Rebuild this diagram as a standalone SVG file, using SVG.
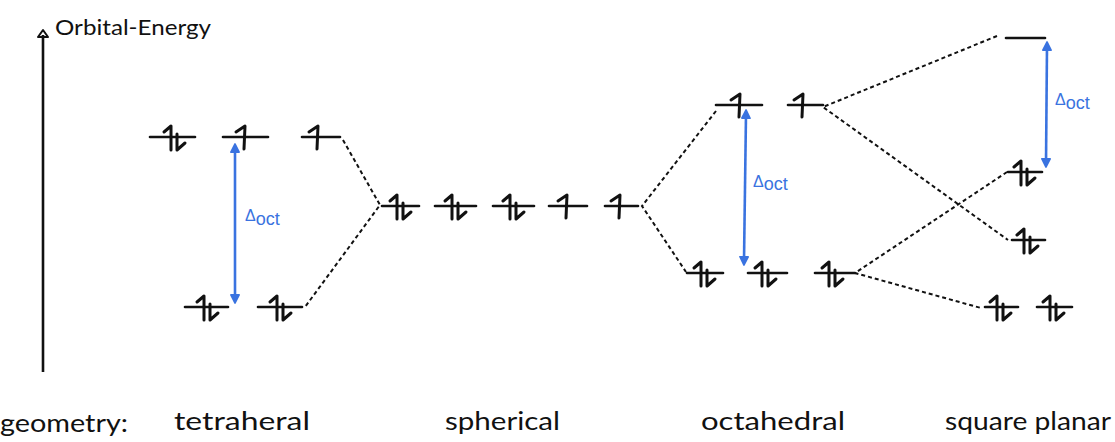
<svg xmlns="http://www.w3.org/2000/svg" width="1115" height="442" viewBox="0 0 1115 442">
<style>
.lvl{stroke:#111;stroke-width:2.6;stroke-linecap:round;fill:none}
.e{stroke:#111;stroke-width:3;stroke-linecap:round;stroke-linejoin:round;fill:none}
.dash{stroke:#111;stroke-width:2;stroke-dasharray:4 3;fill:none}
.gap{stroke:#3a73e0;stroke-width:2.6;fill:none;marker-start:url(#bh);marker-end:url(#bh)}
.gl{fill:#3a73e0;font-family:"Liberation Sans",Arial,sans-serif}
.lab{fill:#111;font-family:Lato,"Liberation Sans",sans-serif;font-size:25px}
</style>
<defs>
<marker id="bh" viewBox="0 0 10 10" refX="5" refY="5" markerWidth="4" markerHeight="4" orient="auto-start-reverse" markerUnits="strokeWidth">
<path d="M1,1 L9,5 L1,9 Z" fill="#3a73e0" stroke="#3a73e0" stroke-width="1.5" stroke-linejoin="round"/>
</marker>
<g id="up"><path class="e" d="M-9,-5 L0,-11 L-1,12"/></g>
<g id="pair"><path class="e" d="M-10,-5 L-3,-11 L-3,13"/><path class="e" d="M3,-3 L3,13 L11,6"/></g>
</defs>

<g id="axis">
<line x1="43" y1="372" x2="43" y2="35" stroke="#111" stroke-width="2.6"/>
<path d="M38,37 L43,30 L48,37 Z" fill="none" stroke="#111" stroke-width="2" stroke-linejoin="round"/>
<text x="55" y="35" font-family="Lato,'Liberation Sans',sans-serif" font-size="22" fill="#111" textLength="156" lengthAdjust="spacingAndGlyphs">Orbital-Energy</text>
</g>

<g id="connectors">
<polyline class="dash" points="343,140 380,205 305,307"/>
<path class="dash" d="M716,111 L642,206 L686,272"/>
<path class="dash" d="M997,36 L823,107 L1008,240"/>
<path class="dash" d="M1007,172 L855,273 L981,308"/>
</g>

<g id="tetrahedral">
<line class="lvl" x1="150" y1="137" x2="195" y2="137"/><use href="#pair" x="174" y="137"/>
<line class="lvl" x1="223" y1="137" x2="268" y2="137"/><use href="#up" x="245" y="137"/>
<line class="lvl" x1="302" y1="137" x2="340" y2="137"/><use href="#up" x="318" y="137"/>
<line class="lvl" x1="185" y1="307" x2="228" y2="307"/><use href="#pair" x="207" y="307"/>
<line class="lvl" x1="258" y1="307" x2="302" y2="307"/><use href="#pair" x="280" y="307"/>
<line class="gap" x1="235" y1="148" x2="235" y2="299"/>
<text class="gl" x="245" y="221" font-size="16">Δ<tspan font-size="18" dy="4">oct</tspan></text>
</g>

<g id="spherical">
<line class="lvl" x1="382" y1="206" x2="419" y2="206"/><use href="#pair" x="400" y="206"/>
<line class="lvl" x1="435" y1="206" x2="476" y2="206"/><use href="#pair" x="455" y="206"/>
<line class="lvl" x1="493" y1="206" x2="534" y2="206"/><use href="#pair" x="513" y="206"/>
<line class="lvl" x1="549" y1="206" x2="587" y2="206"/><use href="#up" x="567" y="206"/>
<line class="lvl" x1="605" y1="206" x2="638" y2="206"/><use href="#up" x="620" y="206"/>
</g>

<g id="octahedral">
<line class="lvl" x1="716" y1="105" x2="762" y2="105"/><use href="#up" x="740" y="105"/>
<line class="lvl" x1="788" y1="105" x2="823" y2="105"/><use href="#up" x="803" y="105"/>
<line class="lvl" x1="687" y1="273" x2="723" y2="273"/><use href="#pair" x="704" y="273"/>
<line class="lvl" x1="748" y1="273" x2="787" y2="273"/><use href="#pair" x="765" y="273"/>
<line class="lvl" x1="815" y1="273" x2="855" y2="273"/><use href="#pair" x="832" y="273"/>
<line class="gap" x1="746" y1="114" x2="744" y2="261"/>
<text class="gl" x="753" y="187" font-size="16">Δ<tspan font-size="18" dy="3">oct</tspan></text>
</g>

<g id="square-planar">
<line class="lvl" x1="1006" y1="38" x2="1045" y2="38"/>
<line class="lvl" x1="1008" y1="172" x2="1042" y2="172"/><use href="#pair" x="1024" y="172"/>
<line class="lvl" x1="1012" y1="240" x2="1045" y2="240"/><use href="#pair" x="1027" y="240"/>
<line class="lvl" x1="985" y1="307" x2="1018" y2="307"/><use href="#pair" x="1000" y="307"/>
<line class="lvl" x1="1037" y1="307" x2="1072" y2="307"/><use href="#pair" x="1053" y="307"/>
<line class="gap" x1="1047" y1="46" x2="1046" y2="163"/>
<text class="gl" x="1055" y="105" font-size="16">Δ<tspan font-size="18" dy="4">oct</tspan></text>
</g>

<g id="labels">
<text class="lab" x="0" y="432" textLength="128" lengthAdjust="spacingAndGlyphs">geometry:</text>
<text class="lab" x="174" y="430" textLength="136" lengthAdjust="spacingAndGlyphs">tetraheral</text>
<text class="lab" x="445" y="430" textLength="115" lengthAdjust="spacingAndGlyphs">spherical</text>
<text class="lab" x="701" y="430" textLength="144" lengthAdjust="spacingAndGlyphs">octahedral</text>
<text class="lab" x="945" y="430" textLength="166" lengthAdjust="spacingAndGlyphs">square planar</text>
</g>
</svg>
